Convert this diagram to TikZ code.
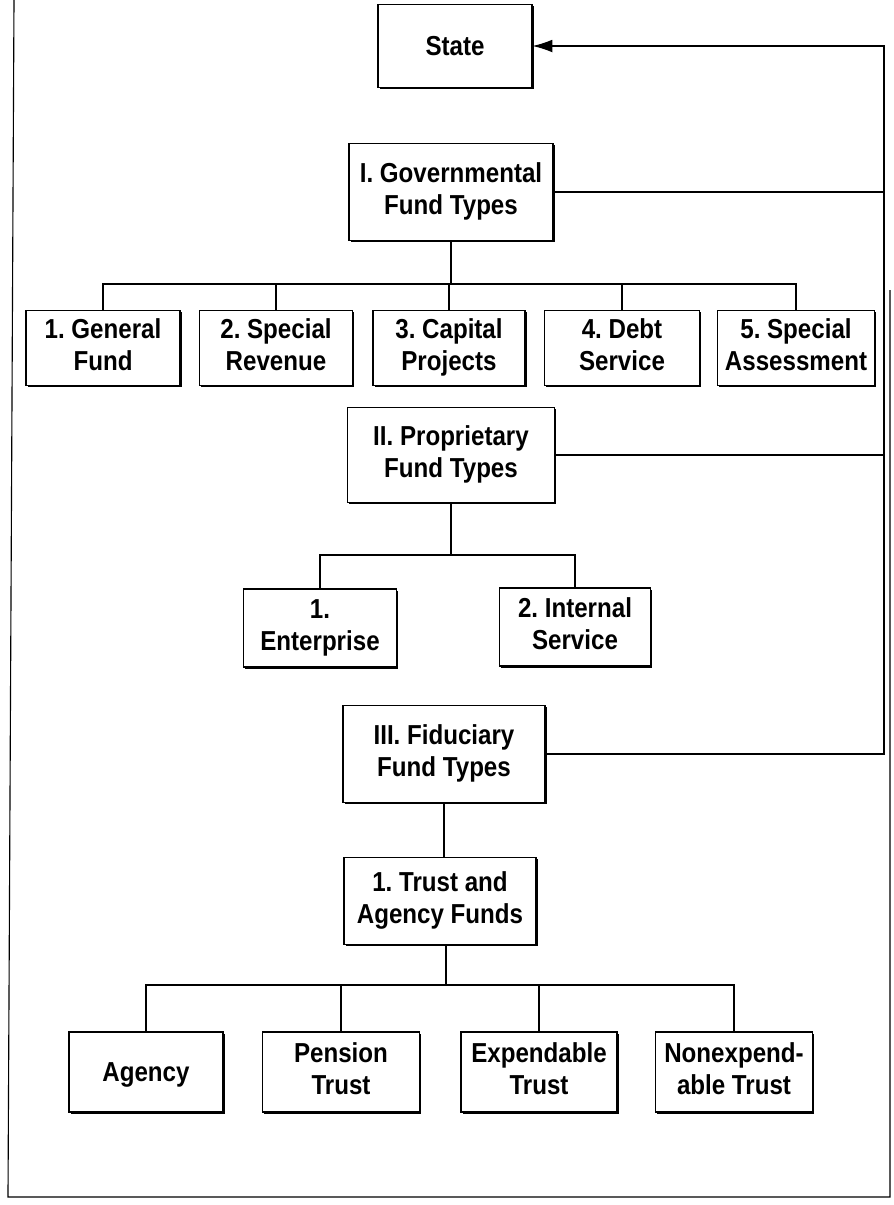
\documentclass[tikz,border=0pt]{standalone}
\usepackage{fontspec}
\setmainfont{Liberation Sans}
\newfontfamily\chartfont[FakeStretch=0.88]{Liberation Sans}
\usetikzlibrary{arrows.meta,shadows}
\newcommand\fundstrut{\rule[-4.5pt]{0pt}{23pt}}
\tikzset{
fund/.style={
  draw=black,
  fill=white,
  line width=0.8pt,
  align=center,
  inner sep=0pt,
  font=\chartfont\bfseries\fontsize{19.5}{22.5}\selectfont,
  execute at begin node=\fundstrut,
  execute at end node=\fundstrut,
  drop shadow={shadow xshift=1.2pt,shadow yshift=-1.2pt,fill=black,opacity=1}
  },
boxsize/.style 2 args={
  minimum width=#1*0.025cm,
  minimum height=#2*0.025cm
  },
link/.style={line width=0.8pt}
}

\begin{document}
\frenchspacing
\begin{tikzpicture}[x=0.025cm,y=-0.025cm,>=Latex]
\useasboundingbox (0,0) rectangle (894,1205);
% outer frame
\draw[link] (14,0) -- (8,1197) -- (890,1197) -- (890,290);

\node[fund,boxsize={154}{83}] (state) at (455,46) {State};

% governmental
\node[fund,boxsize={204}{97}] (gov) at (451,192) {I. Governmental\\Fund Types};
\coordinate (bus1) at (451,284);
\node[fund,boxsize={154}{75}] (gen) at (103,348) {1. General\\Fund};
\node[fund,boxsize={153}{75}] (rev) at (276,348) {2. Special\\Revenue};
\node[fund,boxsize={152}{75}] (cap) at (449,348) {3. Capital\\Projects};
\node[fund,boxsize={155}{75}] (debt) at (622,348) {4. Debt\\Service};
\node[fund,boxsize={157}{75}] (assess) at (796,348) {5. Special\\Assessment};

% proprietary
\node[fund,boxsize={207}{95}] (prop) at (451,455) {II. Proprietary\\Fund Types};
\coordinate (bus2) at (451,555);
\node[fund,boxsize={153}{78}] (ent) at (320,628) {1.\\Enterprise};
\node[fund,boxsize={151}{78}] (intl) at (575,627) {2. Internal\\Service};

% fiduciary
\node[fund,boxsize={202}{97}] (fid) at (444,754) {III. Fiduciary\\Fund Types};
\node[fund,boxsize={192}{87}] (trust) at (440,901) {1. Trust and\\Agency Funds};
\coordinate (bus3) at (446,985);
\node[fund,boxsize={154}{80}] (agency) at (146,1072) {Agency};
\node[fund,boxsize={157}{80}] (pension) at (341,1072) {Pension\\Trust};
\node[fund,boxsize={156}{80}] (expend) at (539,1072) {Expendable\\Trust};
\node[fund,boxsize={157}{80}] (nonexp) at (734,1072) {Nonexpend-\\able Trust};

% tree lines
\draw[link] (gov.south) -- (bus1);
\foreach \n in {gen,rev,cap,debt,assess}
  \draw[link] (bus1) -| (\n.north);
\draw[link] (prop.south) -- (bus2);
\foreach \n in {ent,intl}
  \draw[link] (bus2) -| (\n.north);
\draw[link] (fid.south) -- (fid.south |- trust.north);
\draw[link] (trust.south -| bus3) -- (bus3);
\foreach \n in {agency,pension,expend,nonexp}
  \draw[link] (bus3) -| (\n.north);

% back to state
\coordinate (turn) at (884,46);
\draw[link,-{Latex[length=14pt,width=9pt]}] (fid.east) -| (turn) -- (state.east);
\draw[link] (gov.east) -- (gov.east -| turn);
\draw[link] (prop.east) -- (prop.east -| turn);
\end{tikzpicture}
\end{document}
